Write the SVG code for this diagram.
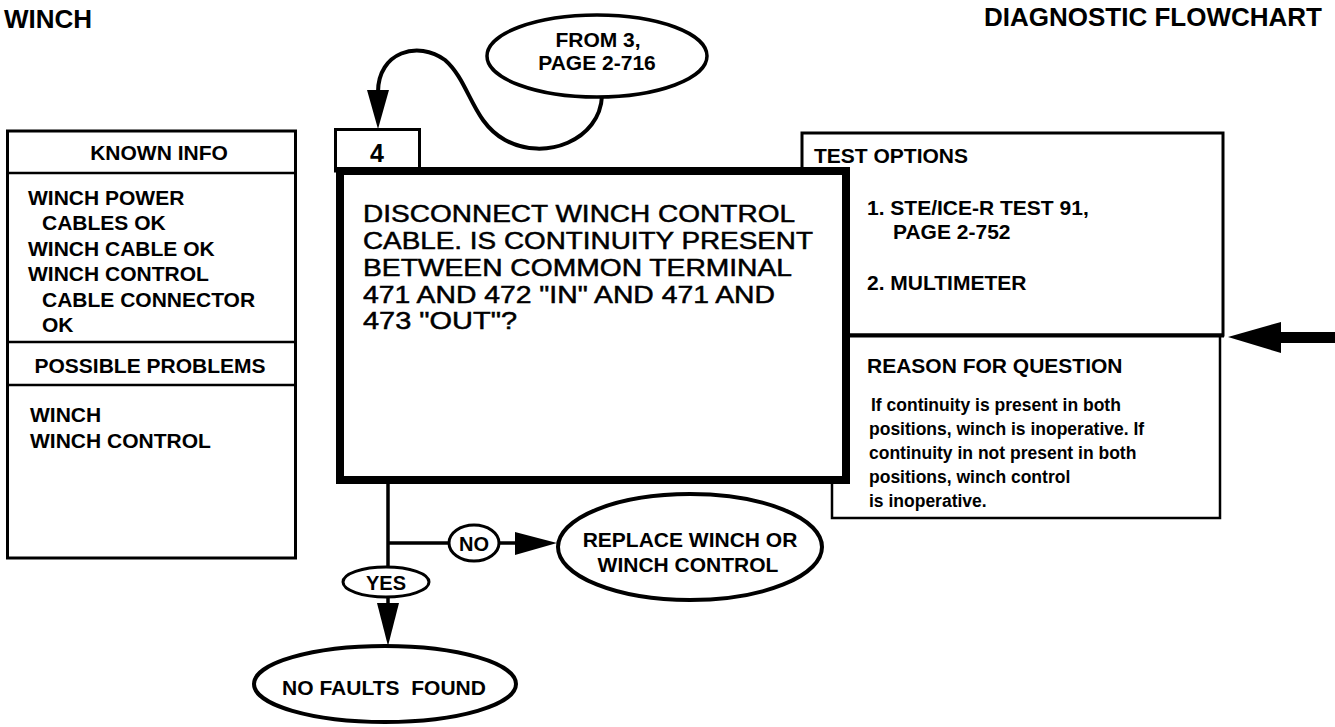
<svg xmlns="http://www.w3.org/2000/svg" width="1335" height="727" viewBox="0 0 1335 727">
<style>
.t{font-family:"Liberation Sans",Arial,Helvetica,sans-serif;fill:#000}
.b{font-weight:bold}
.box{fill:#fff;stroke:#000}
.ln{stroke:#000;fill:none}
.hd{font-size:21px;font-weight:bold}
.it{font-size:21px;font-weight:bold}
.rs{font-size:17.5px;font-weight:bold}
.q{font-size:24px;stroke:#000;stroke-width:0.5px}
.m{text-anchor:middle}
.ah{fill:#000;stroke:none}
</style>
<rect width="1335" height="727" fill="#fff"/>

<g id="titles">
<text class="t b" x="4" y="28" font-size="26">WINCH</text>
<text class="t b" x="1322" y="26" font-size="26" text-anchor="end">DIAGNOSTIC FLOWCHART</text>
</g>

<g id="known-info">
<rect class="box" x="7.5" y="131" width="288" height="427" stroke-width="3"/>
<line class="ln" x1="7.5" y1="173" x2="295.5" y2="173" stroke-width="2.5"/>
<text class="t hd m" x="159" y="160">KNOWN INFO</text>
<text class="t it" x="28" y="205">WINCH POWER</text>
<text class="t it" x="42" y="230">CABLES OK</text>
<text class="t it" x="28" y="256">WINCH CABLE OK</text>
<text class="t it" x="28" y="281">WINCH CONTROL</text>
<text class="t it" x="42" y="307">CABLE CONNECTOR</text>
<text class="t it" x="42" y="332">OK</text>
</g>

<g id="possible-problems">
<line class="ln" x1="7.5" y1="342" x2="295.5" y2="342" stroke-width="2.5"/>
<line class="ln" x1="7.5" y1="385" x2="295.5" y2="385" stroke-width="2.5"/>
<text class="t hd m" x="150" y="373">POSSIBLE PROBLEMS</text>
<text class="t it" x="30" y="422">WINCH</text>
<text class="t it" x="30" y="448">WINCH CONTROL</text>
</g>

<g id="test-options">
<rect class="box" x="802" y="133" width="421" height="202" stroke-width="3"/>
<text class="t hd" x="814" y="163">TEST OPTIONS</text>
<text class="t it" x="867" y="215">1. STE/ICE-R TEST 91,</text>
<text class="t it" x="893" y="239">PAGE 2-752</text>
<text class="t it" x="867" y="290">2. MULTIMETER</text>
</g>

<g id="reason">
<path class="ln" d="M1220 335 V518 H832 V470" stroke-width="2.5"/>
<line class="ln" x1="830" y1="335.5" x2="1224" y2="335.5" stroke-width="4"/>
<text class="t hd" x="867" y="373">REASON FOR QUESTION</text>
<text class="t rs" x="871" y="411">If continuity is present in both</text>
<text class="t rs" x="869" y="435">positions, winch is inoperative. If</text>
<text class="t rs" x="869" y="459">continuity in not present in both</text>
<text class="t rs" x="869" y="483">positions, winch control</text>
<text class="t rs" x="869" y="507">is inoperative.</text>
</g>

<g id="step-4">
<rect class="box" x="335.5" y="129.5" width="84" height="41.5" stroke-width="3"/>
<text class="t b m" x="377" y="162" font-size="25">4</text>
</g>

<g id="question">
<rect class="box" x="340" y="171" width="506" height="309" stroke-width="8"/>
<text class="t q" x="363" y="222" textLength="432" lengthAdjust="spacingAndGlyphs">DISCONNECT WINCH CONTROL</text>
<text class="t q" x="363" y="249" textLength="450" lengthAdjust="spacingAndGlyphs">CABLE. IS CONTINUITY PRESENT</text>
<text class="t q" x="363" y="276" textLength="429" lengthAdjust="spacingAndGlyphs">BETWEEN COMMON TERMINAL</text>
<text class="t q" x="363" y="303" textLength="412" lengthAdjust="spacingAndGlyphs">471 AND 472 "IN" AND 471 AND</text>
<text class="t q" x="363" y="329" textLength="154" lengthAdjust="spacingAndGlyphs">473 "OUT"?</text>
</g>

<g id="connectors">
<path class="ln" d="M602 96 C600 140 545 162 505 140 C472 122 470 82 445 60 C418 40 378 52 378 92" stroke-width="4"/>
<polygon class="ah" points="367,90 389,90 378,129"/>
<line class="ln" x1="388" y1="483" x2="388" y2="568" stroke-width="3.5"/>
<line class="ln" x1="388" y1="543" x2="450" y2="543" stroke-width="3.5"/>
<line class="ln" x1="498" y1="543" x2="518" y2="543" stroke-width="3.5"/>
<polygon class="ah" points="515,532 515,555 557,543"/>
<line class="ln" x1="388" y1="596" x2="388" y2="606" stroke-width="3.5"/>
<polygon class="ah" points="377,603 399,603 388,646"/>
<line class="ln" x1="1278" y1="337.5" x2="1335" y2="337.5" stroke-width="11"/>
<polygon class="ah" points="1228,337 1281,322 1281,353"/>
</g>

<g id="from-3">
<ellipse class="box" cx="597" cy="56" rx="110" ry="41" stroke-width="3.5"/>
<text class="t b m" x="598" y="47" font-size="21">FROM 3,</text>
<text class="t b m" x="597" y="70" font-size="21">PAGE 2-716</text>
</g>

<g id="no">
<ellipse class="box" cx="474" cy="543" rx="25" ry="18" stroke-width="3"/>
<text class="t b m" x="474" y="551" font-size="20">NO</text>
</g>

<g id="yes">
<ellipse class="box" cx="386" cy="582" rx="43" ry="15" stroke-width="3"/>
<text class="t b m" x="386" y="590" font-size="20">YES</text>
</g>

<g id="replace">
<ellipse class="box" cx="690" cy="547" rx="132" ry="53" stroke-width="4"/>
<text class="t b m" x="690" y="547" font-size="21">REPLACE WINCH OR</text>
<text class="t b m" x="688" y="572" font-size="21">WINCH CONTROL</text>
</g>

<g id="no-faults">
<ellipse class="box" cx="385" cy="684" rx="131" ry="38" stroke-width="4"/>
<text class="t b m" x="384" y="695" font-size="21" style="white-space:pre">NO FAULTS  FOUND</text>
</g>
</svg>
